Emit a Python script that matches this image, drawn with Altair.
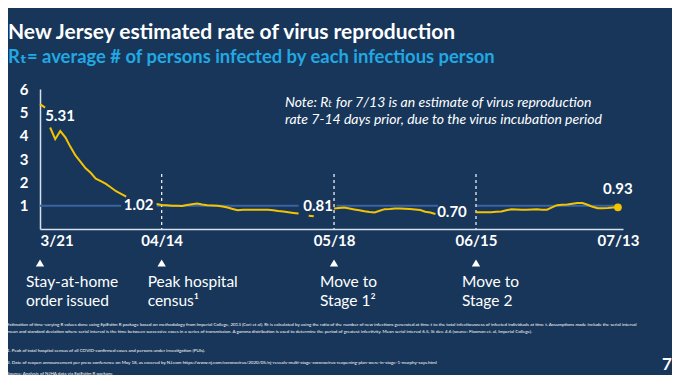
import altair as alt
import pandas as pd

# ---------------- data ----------------
# Rt estimates, day offsets from 3/21/2020; each segment is a visible stretch of the line
segment_start_day = [0, 2, 23, 53, 58, 86]
segment_values = [
    [5.35, 5.20],
    [4.35, 3.85, 4.20, 3.93, 3.52, 3.15, 2.88, 2.60, 2.41, 2.16, 2.05, 1.93, 1.78, 1.62, 1.51, 1.39],
    [1.07, 1.03, 1.02, 1.00, 1.00, 0.99, 1.03, 1.06, 1.09, 1.05, 1.02, 1.01, 1.00, 0.96, 0.92,
     0.86, 0.80, 0.82, 0.82, 0.82, 0.82, 0.82, 0.82, 0.80, 0.77, 0.75, 0.72, 0.69, 0.66],
    [0.57, 0.55],
    [0.88, 0.90, 0.92, 0.88, 0.84, 0.80, 0.76, 0.73, 0.71, 0.78, 0.85, 0.86, 0.88, 0.88, 0.87,
     0.86, 0.84, 0.81, 0.74, 0.71, 0.64],
    [0.72, 0.72, 0.72, 0.72, 0.74, 0.75, 0.80, 0.85, 0.84, 0.83, 0.82, 0.84, 0.85, 0.83, 0.83,
     0.93, 1.02, 1.04, 1.05, 1.08, 1.11, 1.11, 1.04, 0.95, 0.89, 0.89, 0.90, 0.92, 0.93],
]

# Rt = 1 reference line pieces
ref_start_day = [0, 23, 58.5, 86]
ref_end_day = [16, 51, 78.5, 114]
ref_level = [1, 1, 1, 1]

tick_days = [0, 24, 58, 86, 114]
tick_labels = ["3/21", "04/14", "05/18", "06/15", "07/13"]
y_ticks = [1, 2, 3, 4, 5, 6]

callout_days = [0, 24, 58, 86, 114]
callout_values = [5.31, 1.02, 0.81, 0.70, 0.93]

event_days = [0, 24, 58, 86]
event_line1 = ["Stay-at-home", "Peak hospital", "Move to", "Move to"]
event_line2 = ["order issued", "census\u00b9", "Stage 1\u00b2", "Stage 2"]
dashed_days = [24, 58, 86]

title_text = "New Jersey estimated rate of virus reproduction"
subtitle_text = "R\u209c= average # of persons infected by each infectious person"
note_lines = ["Note: R\u209c for 7/13 is an estimate of virus reproduction",
              "rate  7-14 days prior, due to the virus incubation period"]
footnotes = [
    "Estimation of time-varying R values done using EpiEstim R package based on methodology from Imperial College, 2013 (Cori et al).    Rt is calculated by using the ratio of the number of new infections generated at time t to the total infectiousness of infected individuals at time t.  Assumptions made include the serial interval",
    "mean and standard deviation where serial interval is the time between successive cases in a series of transmission.  A gamma distribution is used to determine the period of greatest infectivity.  Mean serial interval 6.5, St dev. 4.6 (source: Flaxman et. al, Imperial College).",
    "1. Peak of total hospital census of all COVID-confirmed cases and persons under investigation (PUIs).",
    "2. Date of reopen announcement per press conference on May 18, as covered by NJ.com https://www.nj.com/coronavirus/2020/05/nj-reveals-multi-stage-coronavirus-reopening-plan-were-in-stage-1-murphy-says.html",
    "Source: Analysis of NJHA data via EpiEstim R package",
]
page_number = "7"

# ---------------- styles ----------------
BG = "#17365a"
YELLOW = "#f5c400"
REF = "#3a64a0"
AXIS = "#d6e0ec"
SUB = "#22a8e2"
FONT = "Lato, DejaVu Sans, sans-serif"
callout_offsets = [(20, 11), (-23, 0), (-16, -4), (-24, -1), (0, -18)]
footnote_y = [236, 243, 262, 274, 285]

# ---------------- tables ----------------
rows = []
for seg, (start, vals) in enumerate(zip(segment_start_day, segment_values)):
    for i, v in enumerate(vals):
        rows.append({"day": start + i, "rt": v, "segment": seg})
rt_df = pd.DataFrame(rows)
ref_df = pd.DataFrame({"day": ref_start_day, "end": ref_end_day, "rt": ref_level})
callout_df = pd.DataFrame({"day": callout_days, "rt": callout_values,
                           "label": [f"{v:.2f}" for v in callout_values]})
event_df = pd.DataFrame({"day": event_days, "l1": event_line1, "l2": event_line2})
dashed_df = pd.DataFrame({"day": dashed_days})

x_scale = alt.Scale(domain=[0, 115], nice=False, zero=False)
y_scale = alt.Scale(domain=[0, 6], nice=False)
label_expr = " : ".join(f"datum.value == {d} ? '{l}'" for d, l in zip(tick_days, tick_labels)) + " : ''"

x_axis = alt.Axis(values=tick_days, labelExpr=label_expr, title=None, grid=False, ticks=False,
                  domainColor=AXIS, domainWidth=1.5, labelColor="white", labelFont=FONT,
                  labelFontSize=15, labelFontWeight="bold", labelPadding=4, labelOverlap=False)
y_axis = alt.Axis(values=y_ticks, title=None, grid=False, ticks=False, domainColor=AXIS,
                  domainWidth=1.5, labelColor="white", labelFont=FONT, labelFontSize=15,
                  labelFontWeight="bold", labelPadding=12)


def X():
    return alt.X("day:Q", scale=x_scale, axis=x_axis)


def Y():
    return alt.Y("rt:Q", scale=y_scale, axis=y_axis)


ref = alt.Chart(ref_df).mark_rule(color=REF, strokeWidth=2).encode(x=X(), x2="end:Q", y=Y())

dashed = alt.Chart(dashed_df).mark_rule(color="#e8eef5", strokeWidth=1.3, strokeDash=[3, 3]).encode(
    x=X(), y=alt.value(85), y2=alt.value(140),
)

line = alt.Chart(rt_df).mark_line(color=YELLOW, strokeWidth=2).encode(
    x=X(), y=Y(), detail="segment:N",
)

dot = alt.Chart(callout_df.tail(1)).mark_circle(size=60, color=YELLOW, opacity=1).encode(x=X(), y=Y())

callouts = []
for i, (dx, dy) in enumerate(callout_offsets):
    callouts.append(
        alt.Chart(callout_df.iloc[[i]]).mark_text(
            font=FONT, fontSize=15, fontWeight="bold", color="white",
            align="center", baseline="middle", dx=dx, dy=dy,
        ).encode(x=X(), y=Y(), text="label:N")
    )

triangles = alt.Chart(event_df).mark_point(shape="triangle-up", filled=True, color="white",
                                            size=70, opacity=1).encode(x=X(), y=alt.value(174))

event_text1 = alt.Chart(event_df).mark_text(
    font=FONT, fontSize=15.5, color="white", align="left", baseline="middle", dx=-14,
).encode(x=X(), y=alt.value(193), text="l1:N")
event_text2 = alt.Chart(event_df).mark_text(
    font=FONT, fontSize=15.5, color="white", align="left", baseline="middle", dx=-14,
).encode(x=X(), y=alt.value(212), text="l2:N")


def free_text(txt, x, y, **kw):
    return alt.Chart(pd.DataFrame({"t": [txt]})).mark_text(font=FONT, **kw).encode(
        text="t:N", x=alt.value(x), y=alt.value(y))


texts = [
    free_text(title_text, -32, -50, fontSize=21, fontWeight="bold", color="white",
              align="left", baseline="alphabetic"),
    free_text(subtitle_text, -32, -26, fontSize=18.4, fontWeight="bold", color=SUB,
              align="left", baseline="alphabetic"),
    free_text(note_lines[0], 245, 14, fontSize=14, fontStyle="italic", color="white",
              align="left", baseline="middle"),
    free_text(note_lines[1], 245, 31, fontSize=14, fontStyle="italic", color="white",
              align="left", baseline="middle"),
    free_text(page_number, 627, 276, fontSize=17, fontWeight="bold", color="white",
              align="center", baseline="middle"),
]
for txt, fy in zip(footnotes, footnote_y):
    texts.append(free_text(txt, -33, fy, fontSize=4.5, color="white",
                           align="left", baseline="middle"))

chart = alt.layer(ref, dashed, line, dot, *callouts, triangles, event_text1, event_text2,
                  *texts).properties(
    width=583, height=140,
    autosize=alt.AutoSizeParams(type="none"),
    padding={"left": 32, "top": 81, "right": 49, "bottom": 146},
    background=BG,
).configure_view(stroke=None)

chart.save("out.html", embed_options={"renderer": "svg", "actions": False})
